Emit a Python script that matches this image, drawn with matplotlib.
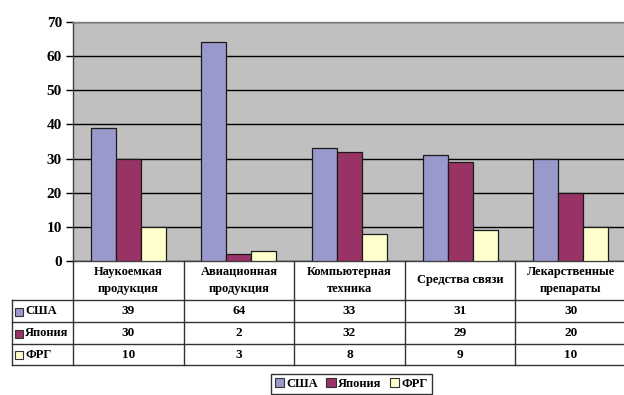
import numpy as np
import matplotlib
matplotlib.use("Agg")
import matplotlib.pyplot as plt
from matplotlib.patches import Rectangle, Patch

# ---- data ----
categories = ["Наукоемкая\nпродукция", "Авиационная\nпродукция",
              "Компьютерная\nтехника", "Средства связи",
              "Лекарственные\nпрепараты"]
series_names = ["США", "Япония", "ФРГ"]
usa = [39, 64, 33, 31, 30]
japan = [30, 2, 32, 29, 20]
frg = [10, 3, 8, 9, 10]
y_ticks = [0, 10, 20, 30, 40, 50, 60, 70]

series = [usa, japan, frg]
colors = ["#9999CC", "#993366", "#FFFFCC"]

plt.rcParams["font.family"] = ["Liberation Serif", "DejaVu Serif"]
plt.rcParams["font.weight"] = "bold"
FS = 9.5
FS_HEAD = 9.0
FS_TICK = 11

W, H = 624, 395
fig = plt.figure(figsize=(W / 100, H / 100), dpi=100)
fig.patch.set_facecolor("white")


def fx(px):
    return px / W


def fy(py):
    return 1 - py / H


# plot area in pixel coordinates
plot_l, plot_r, plot_t, plot_b = 73, 626, 22, 261
ax = fig.add_axes([fx(plot_l), fy(plot_b),
                   fx(plot_r) - fx(plot_l), fy(plot_t) - fy(plot_b)])
ax.set_facecolor("#C0C0C0")

n = len(categories)
x = np.arange(n)
bw = 0.226
for k, (vals, col) in enumerate(zip(series, colors)):
    ax.bar(x + (k - 1) * bw, vals, width=bw, color=col,
           edgecolor="#1a1a1a", linewidth=0.9, zorder=3)

ax.set_xlim(-0.5, n - 0.5)
ax.set_ylim(0, 70)
ax.set_yticks(y_ticks)
ax.set_yticklabels([str(t) for t in y_ticks], fontsize=FS_TICK,
                   fontweight="bold")
ax.set_xticks([])
ax.tick_params(axis="y", direction="out", length=5, width=1, color="black",
               pad=3)
ax.yaxis.grid(True, color="black", linewidth=1.0, zorder=1)
ax.set_axisbelow(True)
for side in ["top", "right"]:
    ax.spines[side].set_color("#808080")
    ax.spines[side].set_linewidth(1.0)
ax.spines["left"].set_color("#404040")
ax.spines["bottom"].set_color("#404040")
ax.spines["left"].set_linewidth(1.0)
ax.spines["bottom"].set_linewidth(1.0)

# ---- data table under the chart ----
tab_l, tab_b = 12, 365
ax_t = fig.add_axes([fx(tab_l), fy(tab_b),
                     fx(plot_r) - fx(tab_l), fy(plot_b) - fy(tab_b)])
px_per_cat = (plot_r - plot_l) / n
x0 = -0.5 - (plot_l - tab_l) / px_per_cat
ax_t.set_xlim(x0, n - 0.5)
row_edges = [0, 39, 61, 83, 104]
ax_t.set_ylim(row_edges[-1], 0)
ax_t.axis("off")

line_kw = dict(color="#333333", linewidth=1.0, clip_on=False)
for ye in row_edges[1:]:
    ax_t.plot([x0, n - 0.5], [ye, ye], **line_kw)
for b in np.arange(n + 1) - 0.5:
    ax_t.plot([b, b], [0, row_edges[-1]], **line_kw)
ax_t.plot([x0, x0], [row_edges[1], row_edges[-1]], **line_kw)

for i, cat in enumerate(categories):
    ax_t.text(i, (row_edges[0] + row_edges[1]) / 2, cat, ha="center",
              va="center", fontsize=FS_HEAD, fontweight="bold",
              linespacing=1.55)

sq = 8
for r, (name, vals, col) in enumerate(zip(series_names, series, colors)):
    yc = (row_edges[r + 1] + row_edges[r + 2]) / 2
    ax_t.add_patch(Rectangle((x0 + 3 / px_per_cat, yc - sq / 2 + 0.5),
                             sq / px_per_cat, sq, facecolor=col,
                             edgecolor="#333333", linewidth=0.8,
                             clip_on=False))
    ax_t.text(x0 + 13 / px_per_cat, yc, name, ha="left", va="center",
              fontsize=FS_HEAD, fontweight="bold")
    for i, v in enumerate(vals):
        ax_t.text(i, yc, str(v), ha="center", va="center",
                  fontsize=FS, fontweight="bold")

# ---- legend ----
handles = [Patch(facecolor=c, edgecolor="#333333", linewidth=0.8)
           for c in colors]
leg = fig.legend(handles, series_names, loc="upper left",
                 bbox_to_anchor=(fx(271), fy(374)), ncol=3, frameon=True,
                 fancybox=False, shadow=False, borderpad=0.3,
                 handlelength=0.75, handleheight=0.75, handletextpad=0.2,
                 columnspacing=0.65, borderaxespad=0,
                 prop={"size": FS_HEAD, "weight": "bold"})
leg.get_frame().set_edgecolor("black")
leg.get_frame().set_linewidth(1.0)

fig.savefig("out.png", dpi=100)
